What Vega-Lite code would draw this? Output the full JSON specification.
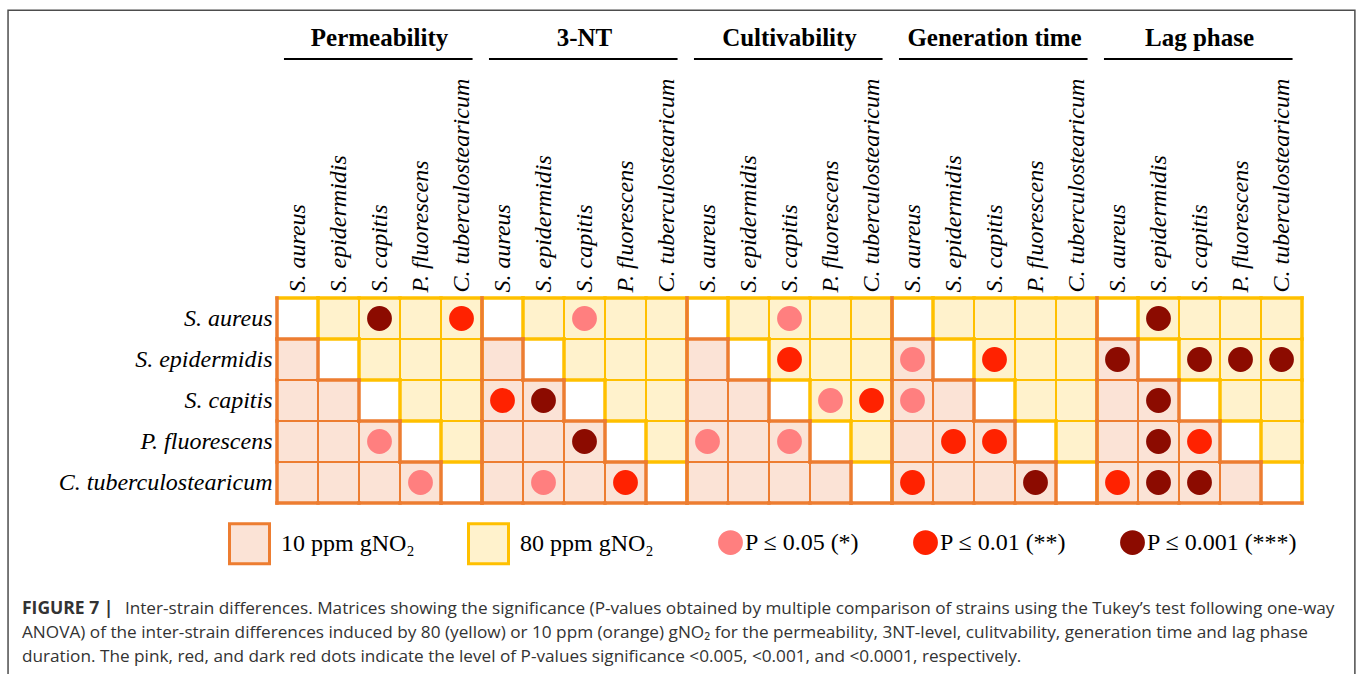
{
  "$schema": "https://vega.github.io/schema/vega-lite/v6.json",
  "width": 1025,
  "height": 205,
  "autosize": {"type": "none"},
  "padding": {"left": 277, "top": 298, "right": 55, "bottom": 171},
  "background": "white",
  "config": {"view": {"stroke": null}},
  "resolve": {"axis": {"x": "independent", "y": "independent"}},
  "data": {"values": [
    {"test":"Permeability","row":0,"col":0},{"test":"Permeability","row":0,"col":1},{"test":"Permeability","row":0,"col":2,"p":"P ≤ 0.001 (***)"},{"test":"Permeability","row":0,"col":3},{"test":"Permeability","row":0,"col":4,"p":"P ≤ 0.01 (**)"},
    {"test":"Permeability","row":1,"col":0},{"test":"Permeability","row":1,"col":1},{"test":"Permeability","row":1,"col":2},{"test":"Permeability","row":1,"col":3},{"test":"Permeability","row":1,"col":4},
    {"test":"Permeability","row":2,"col":0},{"test":"Permeability","row":2,"col":1},{"test":"Permeability","row":2,"col":2},{"test":"Permeability","row":2,"col":3},{"test":"Permeability","row":2,"col":4},
    {"test":"Permeability","row":3,"col":0},{"test":"Permeability","row":3,"col":1},{"test":"Permeability","row":3,"col":2,"p":"P ≤ 0.05 (*)"},{"test":"Permeability","row":3,"col":3},{"test":"Permeability","row":3,"col":4},
    {"test":"Permeability","row":4,"col":0},{"test":"Permeability","row":4,"col":1},{"test":"Permeability","row":4,"col":2},{"test":"Permeability","row":4,"col":3,"p":"P ≤ 0.05 (*)"},{"test":"Permeability","row":4,"col":4},
    {"test":"3-NT","row":0,"col":0},{"test":"3-NT","row":0,"col":1},{"test":"3-NT","row":0,"col":2,"p":"P ≤ 0.05 (*)"},{"test":"3-NT","row":0,"col":3},{"test":"3-NT","row":0,"col":4},
    {"test":"3-NT","row":1,"col":0},{"test":"3-NT","row":1,"col":1},{"test":"3-NT","row":1,"col":2},{"test":"3-NT","row":1,"col":3},{"test":"3-NT","row":1,"col":4},
    {"test":"3-NT","row":2,"col":0,"p":"P ≤ 0.01 (**)"},{"test":"3-NT","row":2,"col":1,"p":"P ≤ 0.001 (***)"},{"test":"3-NT","row":2,"col":2},{"test":"3-NT","row":2,"col":3},{"test":"3-NT","row":2,"col":4},
    {"test":"3-NT","row":3,"col":0},{"test":"3-NT","row":3,"col":1},{"test":"3-NT","row":3,"col":2,"p":"P ≤ 0.001 (***)"},{"test":"3-NT","row":3,"col":3},{"test":"3-NT","row":3,"col":4},
    {"test":"3-NT","row":4,"col":0},{"test":"3-NT","row":4,"col":1,"p":"P ≤ 0.05 (*)"},{"test":"3-NT","row":4,"col":2},{"test":"3-NT","row":4,"col":3,"p":"P ≤ 0.01 (**)"},{"test":"3-NT","row":4,"col":4},
    {"test":"Cultivability","row":0,"col":0},{"test":"Cultivability","row":0,"col":1},{"test":"Cultivability","row":0,"col":2,"p":"P ≤ 0.05 (*)"},{"test":"Cultivability","row":0,"col":3},{"test":"Cultivability","row":0,"col":4},
    {"test":"Cultivability","row":1,"col":0},{"test":"Cultivability","row":1,"col":1},{"test":"Cultivability","row":1,"col":2,"p":"P ≤ 0.01 (**)"},{"test":"Cultivability","row":1,"col":3},{"test":"Cultivability","row":1,"col":4},
    {"test":"Cultivability","row":2,"col":0},{"test":"Cultivability","row":2,"col":1},{"test":"Cultivability","row":2,"col":2},{"test":"Cultivability","row":2,"col":3,"p":"P ≤ 0.05 (*)"},{"test":"Cultivability","row":2,"col":4,"p":"P ≤ 0.01 (**)"},
    {"test":"Cultivability","row":3,"col":0,"p":"P ≤ 0.05 (*)"},{"test":"Cultivability","row":3,"col":1},{"test":"Cultivability","row":3,"col":2,"p":"P ≤ 0.05 (*)"},{"test":"Cultivability","row":3,"col":3},{"test":"Cultivability","row":3,"col":4},
    {"test":"Cultivability","row":4,"col":0},{"test":"Cultivability","row":4,"col":1},{"test":"Cultivability","row":4,"col":2},{"test":"Cultivability","row":4,"col":3},{"test":"Cultivability","row":4,"col":4},
    {"test":"Generation time","row":0,"col":0},{"test":"Generation time","row":0,"col":1},{"test":"Generation time","row":0,"col":2},{"test":"Generation time","row":0,"col":3},{"test":"Generation time","row":0,"col":4},
    {"test":"Generation time","row":1,"col":0,"p":"P ≤ 0.05 (*)"},{"test":"Generation time","row":1,"col":1},{"test":"Generation time","row":1,"col":2,"p":"P ≤ 0.01 (**)"},{"test":"Generation time","row":1,"col":3},{"test":"Generation time","row":1,"col":4},
    {"test":"Generation time","row":2,"col":0,"p":"P ≤ 0.05 (*)"},{"test":"Generation time","row":2,"col":1},{"test":"Generation time","row":2,"col":2},{"test":"Generation time","row":2,"col":3},{"test":"Generation time","row":2,"col":4},
    {"test":"Generation time","row":3,"col":0},{"test":"Generation time","row":3,"col":1,"p":"P ≤ 0.01 (**)"},{"test":"Generation time","row":3,"col":2,"p":"P ≤ 0.01 (**)"},{"test":"Generation time","row":3,"col":3},{"test":"Generation time","row":3,"col":4},
    {"test":"Generation time","row":4,"col":0,"p":"P ≤ 0.01 (**)"},{"test":"Generation time","row":4,"col":1},{"test":"Generation time","row":4,"col":2},{"test":"Generation time","row":4,"col":3,"p":"P ≤ 0.001 (***)"},{"test":"Generation time","row":4,"col":4},
    {"test":"Lag phase","row":0,"col":0},{"test":"Lag phase","row":0,"col":1,"p":"P ≤ 0.001 (***)"},{"test":"Lag phase","row":0,"col":2},{"test":"Lag phase","row":0,"col":3},{"test":"Lag phase","row":0,"col":4},
    {"test":"Lag phase","row":1,"col":0,"p":"P ≤ 0.001 (***)"},{"test":"Lag phase","row":1,"col":1},{"test":"Lag phase","row":1,"col":2,"p":"P ≤ 0.001 (***)"},{"test":"Lag phase","row":1,"col":3,"p":"P ≤ 0.001 (***)"},{"test":"Lag phase","row":1,"col":4,"p":"P ≤ 0.001 (***)"},
    {"test":"Lag phase","row":2,"col":0},{"test":"Lag phase","row":2,"col":1,"p":"P ≤ 0.001 (***)"},{"test":"Lag phase","row":2,"col":2},{"test":"Lag phase","row":2,"col":3},{"test":"Lag phase","row":2,"col":4},
    {"test":"Lag phase","row":3,"col":0},{"test":"Lag phase","row":3,"col":1,"p":"P ≤ 0.001 (***)"},{"test":"Lag phase","row":3,"col":2,"p":"P ≤ 0.01 (**)"},{"test":"Lag phase","row":3,"col":3},{"test":"Lag phase","row":3,"col":4},
    {"test":"Lag phase","row":4,"col":0,"p":"P ≤ 0.01 (**)"},{"test":"Lag phase","row":4,"col":1,"p":"P ≤ 0.001 (***)"},{"test":"Lag phase","row":4,"col":2,"p":"P ≤ 0.001 (***)"},{"test":"Lag phase","row":4,"col":3},{"test":"Lag phase","row":4,"col":4}
  ]},
  "transform": [
    {"calculate": "indexof(['Permeability','3-NT','Cultivability','Generation time','Lag phase'], datum.test)", "as": "mi"},
    {"calculate": "datum.mi*5+datum.col", "as": "x0"},
    {"calculate": "datum.x0+1", "as": "x1"},
    {"calculate": "datum.x0+0.5", "as": "xc"},
    {"calculate": "datum.row+1", "as": "y1"},
    {"calculate": "datum.row+0.5", "as": "yc"},
    {"calculate": "datum.row>datum.col ? '10 ppm gNO₂' : (datum.row<datum.col ? '80 ppm gNO₂' : 'none')", "as": "dose"}
  ],
  "layer": [
    {
      "transform": [{"filter": "datum.dose != 'none'"}],
      "mark": {"type": "rect", "strokeWidth": 2},
      "encoding": {
        "x": {"field": "x0", "type": "quantitative", "scale": {"domain": [0, 25], "nice": false, "zero": false},
          "axis": {"orient": "top", "values": [0.5,1.5,2.5,3.5,4.5,5.5,6.5,7.5,8.5,9.5,10.5,11.5,12.5,13.5,14.5,15.5,16.5,17.5,18.5,19.5,20.5,21.5,22.5,23.5,24.5],
            "labelExpr": "floor(datum.value) % 5 == 0 ? 'S. aureus' : floor(datum.value) % 5 == 1 ? 'S. epidermidis' : floor(datum.value) % 5 == 2 ? 'S. capitis' : floor(datum.value) % 5 == 3 ? 'P. fluorescens' : 'C. tuberculostearicum'",
            "labelAngle": 270, "labelAlign": "left", "labelBaseline": "middle", "labelFont": "Liberation Serif", "labelFontStyle": "italic", "labelFontSize": 24, "labelColor": "#000000",
            "labelPadding": 6, "ticks": false, "domain": false, "grid": false, "title": null, "labelFlush": false, "labelOverlap": false, "labelBound": false, "labelLimit": 400}},
        "x2": {"field": "x1"},
        "y": {"field": "row", "type": "quantitative", "scale": {"domain": [0, 5], "nice": false, "zero": false, "reverse": true},
          "axis": {"orient": "left", "values": [0.5,1.5,2.5,3.5,4.5],
            "labelExpr": "datum.value < 1 ? 'S. aureus' : datum.value < 2 ? 'S. epidermidis' : datum.value < 3 ? 'S. capitis' : datum.value < 4 ? 'P. fluorescens' : 'C. tuberculostearicum'",
            "labelFont": "Liberation Serif", "labelFontStyle": "italic", "labelFontSize": 24, "labelColor": "#000000", "labelPadding": 5,
            "ticks": false, "domain": false, "grid": false, "title": null, "labelFlush": false, "labelOverlap": false, "labelBound": false, "labelLimit": 400}},
        "y2": {"field": "y1"},
        "fill": {"field": "dose", "type": "nominal", "scale": {"domain": ["10 ppm gNO₂", "80 ppm gNO₂"], "range": ["#FBE3D6", "#FFF2CC"]},
          "legend": {"title": null, "orient": "none", "legendX": -49, "legendY": 224, "direction": "horizontal", "symbolType": "square", "symbolSize": 1600, "symbolStrokeWidth": 3,
            "labelFont": "Liberation Serif", "labelFontSize": 24, "labelColor": "#000000", "labelOffset": 10, "columnPadding": 47, "labelLimit": 300}},
        "stroke": {"field": "dose", "type": "nominal", "scale": {"domain": ["10 ppm gNO₂", "80 ppm gNO₂"], "range": ["#ED7D31", "#FFC000"]},
          "legend": {"title": null, "orient": "none", "legendX": -49, "legendY": 224, "direction": "horizontal", "symbolType": "square", "symbolSize": 1600, "symbolStrokeWidth": 3,
            "labelFont": "Liberation Serif", "labelFontSize": 24, "labelColor": "#000000", "labelOffset": 10, "columnPadding": 47, "labelLimit": 300}}
      }
    },
    {
      "data": {"values": [{}]},
      "mark": {"type": "rect", "fill": "transparent", "stroke": "#4d4d4d", "strokeWidth": 1.5},
      "encoding": {
        "x": {"datum": -6.56, "type": "quantitative", "scale": {"domain": [0, 25], "nice": false, "zero": false}, "axis": null},
        "x2": {"datum": 26.29},
        "y": {"datum": -7.02, "type": "quantitative", "scale": {"domain": [0, 5], "nice": false, "zero": false, "reverse": true}, "axis": null},
        "y2": {"datum": 9.8}
      }
    },
    {
      "transform": [{"filter": "datum.dose == 'none' || (datum.dose == '80 ppm gNO₂' && datum.row == 0)"}],
      "mark": {"type": "rule", "color": "#FFC000", "strokeWidth": 3.5, "strokeCap": "square"},
      "encoding": {
        "x": {"field": "x0", "type": "quantitative", "scale": {"domain": [0, 25], "nice": false, "zero": false}, "axis": null},
        "x2": {"field": "x1"},
        "y": {"field": "row", "type": "quantitative", "scale": {"domain": [0, 5], "nice": false, "zero": false, "reverse": true}, "axis": null}
      }
    },
    {
      "transform": [{"filter": "datum.dose == 'none' || (datum.dose == '80 ppm gNO₂' && datum.col == 4)"}],
      "mark": {"type": "rule", "color": "#FFC000", "strokeWidth": 3.5, "strokeCap": "square"},
      "encoding": {
        "x": {"field": "x1", "type": "quantitative", "scale": {"domain": [0, 25], "nice": false, "zero": false}, "axis": null},
        "y": {"field": "row", "type": "quantitative", "scale": {"domain": [0, 5], "nice": false, "zero": false, "reverse": true}, "axis": null},
        "y2": {"field": "y1"}
      }
    },
    {
      "transform": [{"filter": "datum.dose == 'none' || (datum.dose == '10 ppm gNO₂' && datum.col == 0)"}],
      "mark": {"type": "rule", "color": "#ED7D31", "strokeWidth": 3.5, "strokeCap": "square"},
      "encoding": {
        "x": {"field": "x0", "type": "quantitative", "scale": {"domain": [0, 25], "nice": false, "zero": false}, "axis": null},
        "y": {"field": "row", "type": "quantitative", "scale": {"domain": [0, 5], "nice": false, "zero": false, "reverse": true}, "axis": null},
        "y2": {"field": "y1"}
      }
    },
    {
      "transform": [{"filter": "datum.dose == 'none' || (datum.dose == '10 ppm gNO₂' && datum.row == 4)"}],
      "mark": {"type": "rule", "color": "#ED7D31", "strokeWidth": 3.5, "strokeCap": "square"},
      "encoding": {
        "x": {"field": "x0", "type": "quantitative", "scale": {"domain": [0, 25], "nice": false, "zero": false}, "axis": null},
        "x2": {"field": "x1"},
        "y": {"field": "y1", "type": "quantitative", "scale": {"domain": [0, 5], "nice": false, "zero": false, "reverse": true}, "axis": null}
      }
    },
    {
      "transform": [{"filter": "datum.p"}],
      "mark": {"type": "circle", "size": 616, "opacity": 1},
      "encoding": {
        "x": {"field": "xc", "type": "quantitative", "scale": {"domain": [0, 25], "nice": false, "zero": false}, "axis": null},
        "y": {"field": "yc", "type": "quantitative", "scale": {"domain": [0, 5], "nice": false, "zero": false, "reverse": true}, "axis": null},
        "color": {"field": "p", "type": "nominal", "scale": {"domain": ["P ≤ 0.05 (*)", "P ≤ 0.01 (**)", "P ≤ 0.001 (***)"], "range": ["#FF7F7F", "#FF2200", "#8C0B00"]},
          "legend": {"title": null, "orient": "none", "legendX": 440, "legendY": 231, "direction": "horizontal", "symbolType": "circle", "symbolSize": 616, "symbolOpacity": 1,
            "labelFont": "Liberation Serif", "labelFontSize": 24, "labelColor": "#000000", "labelOffset": 1, "columnPadding": 52, "labelLimit": 300}}
      }
    },
    {
      "data": {"values": [{"test": "Permeability"}, {"test": "3-NT"}, {"test": "Cultivability"}, {"test": "Generation time"}, {"test": "Lag phase"}]},
      "transform": [
        {"calculate": "indexof(['Permeability','3-NT','Cultivability','Generation time','Lag phase'], datum.test)", "as": "mi"},
        {"calculate": "datum.mi*5+2.5", "as": "tx"},
        {"calculate": "datum.mi*5+0.17", "as": "ux0"},
        {"calculate": "datum.mi*5+4.77", "as": "ux1"}
      ],
      "layer": [
        {
          "mark": {"type": "text", "font": "Liberation Serif", "fontWeight": "bold", "fontSize": 25, "color": "#000000", "align": "center", "baseline": "middle"},
          "encoding": {
            "x": {"field": "tx", "type": "quantitative", "scale": {"domain": [0, 25], "nice": false, "zero": false}, "axis": null},
            "y": {"datum": -6.34, "type": "quantitative", "scale": {"domain": [0, 5], "nice": false, "zero": false, "reverse": true}, "axis": null},
            "text": {"field": "test"}
          }
        },
        {
          "mark": {"type": "rule", "color": "#000000", "strokeWidth": 2},
          "encoding": {
            "x": {"field": "ux0", "type": "quantitative", "scale": {"domain": [0, 25], "nice": false, "zero": false}, "axis": null},
            "x2": {"field": "ux1"},
            "y": {"datum": -5.83, "type": "quantitative", "scale": {"domain": [0, 5], "nice": false, "zero": false, "reverse": true}, "axis": null}
          }
        }
      ]
    },
    {
      "data": {"values": [{"label": "FIGURE 7 |", "first": "Inter-strain differences. Matrices showing the significance (P-values obtained by multiple comparison of strains using the Tukey’s test following one-way", "rest": "ANOVA) of the inter-strain differences induced by 80 (yellow) or 10 ppm (orange) gNO₂ for the permeability, 3NT-level, culitvability, generation time and lag phase\nduration. The pink, red, and dark red dots indicate the level of P-values significance <0.005, <0.001, and <0.0001, respectively."}]},
      "layer": [
        {
          "mark": {"type": "text", "font": "Open Sans", "fontWeight": "bold", "fontSize": 17.5, "color": "#333333", "align": "left", "baseline": "alphabetic"},
          "encoding": {
            "x": {"datum": -6.22, "type": "quantitative", "scale": {"domain": [0, 25], "nice": false, "zero": false}, "axis": null},
            "y": {"datum": 7.71, "type": "quantitative", "scale": {"domain": [0, 5], "nice": false, "zero": false, "reverse": true}, "axis": null},
            "text": {"field": "label"}
          }
        },
        {
          "mark": {"type": "text", "font": "Open Sans", "fontSize": 17.2, "color": "#333333", "align": "left", "baseline": "alphabetic"},
          "encoding": {
            "x": {"datum": -3.71, "type": "quantitative", "scale": {"domain": [0, 25], "nice": false, "zero": false}, "axis": null},
            "y": {"datum": 7.71, "type": "quantitative", "scale": {"domain": [0, 5], "nice": false, "zero": false, "reverse": true}, "axis": null},
            "text": {"field": "first"}
          }
        },
        {
          "mark": {"type": "text", "font": "Open Sans", "fontSize": 17.2, "color": "#333333", "align": "left", "baseline": "alphabetic", "lineBreak": "\n", "lineHeight": 24},
          "encoding": {
            "x": {"datum": -6.22, "type": "quantitative", "scale": {"domain": [0, 25], "nice": false, "zero": false}, "axis": null},
            "y": {"datum": 8.29, "type": "quantitative", "scale": {"domain": [0, 5], "nice": false, "zero": false, "reverse": true}, "axis": null},
            "text": {"field": "rest"}
          }
        }
      ]
    }
  ]
}
